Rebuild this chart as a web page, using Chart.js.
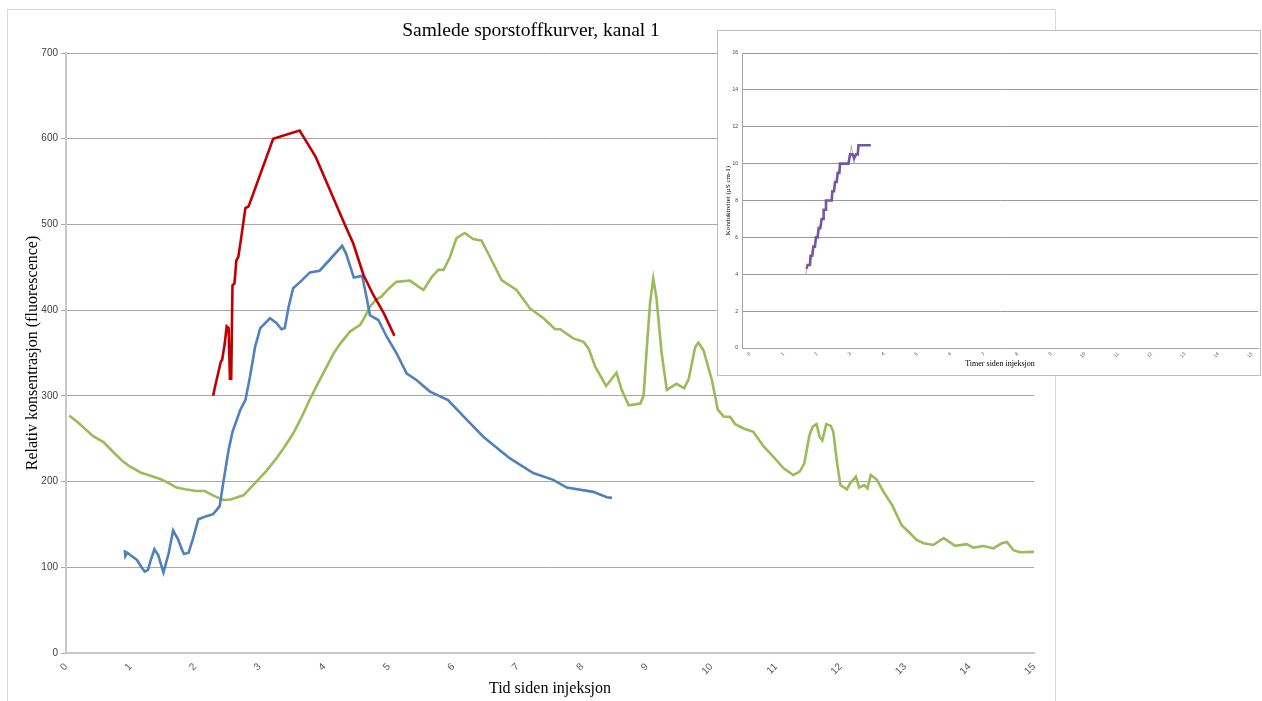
<!DOCTYPE html>
<html>
<head>
<meta charset="utf-8">
<script src="https://cdn.jsdelivr.net/npm/chart.js@4.4.1/dist/chart.umd.min.js"></script>
<style>
html,body{margin:0;padding:0;background:#fff;width:1262px;height:701px;overflow:hidden;}
#frame{position:absolute;left:7px;top:9px;width:1047px;height:700px;border:1px solid #d9d9d9;border-bottom:none;}
#main{position:absolute;left:0;top:0;}
#insetBox{position:absolute;left:717px;top:30px;width:542px;height:344px;border:1px solid #bfbfbf;background:#fff;}
#inset{position:absolute;left:0;top:0;}
</style>
</head>
<body>
<div id="frame"></div>
<canvas id="main" width="1262" height="701"></canvas>
<div id="insetBox"><canvas id="inset" width="542" height="344"></canvas></div>
<script>
// ---------- main chart data ----------
const chartTitle = 'Samlede sporstoffkurver, kanal 1';
const xTitle = 'Tid siden injeksjon';
const yTitle = 'Relativ konsentrasjon (fluorescence)';
const xTicks = [0,1,2,3,4,5,6,7,8,9,10,11,12,13,14,15];
const yTicks = [0,100,200,300,400,500,600,700];

const redX = [2.28,2.31,2.40,2.42,2.46,2.49,2.52,2.54,2.56,2.58,2.61,2.64,2.67,2.71,2.78,2.83,3.21,3.62,3.86,3.88,4.32,4.45,4.61,4.76,4.92,5.09];
const redY = [300,311,340,342,361,381,379,320,320,429,431,458,462,482,519,521,600,609.5,580,577,500,478,441,418,397,370];

const blueX = [0.91,0.92,0.95,1.00,1.10,1.17,1.22,1.27,1.32,1.37,1.43,1.51,1.59,1.66,1.74,1.80,1.83,1.90,1.97,2.05,2.15,2.28,2.38,2.44,2.52,2.58,2.70,2.78,2.85,2.93,3.01,3.16,3.26,3.34,3.39,3.45,3.52,3.63,3.78,3.93,4.04,4.28,4.34,4.40,4.46,4.59,4.66,4.71,4.84,4.97,5.12,5.28,5.43,5.64,5.92,6.16,6.47,6.88,7.24,7.55,7.76,8.17,8.38,8.46];
const blueY = [120,113,117,114,108.5,100,95,97,110,121,114,94,116,143,132,120,115.5,117,134,156,159,162,171,200,237,258,283.5,295,322,357,379,390.5,385,377.7,379,404,425.5,433,444,446,455,475,466,452,438,440,414,394,388.5,369,350,326,318.5,305,295,276,252,227,210,202,193,188,181.7,181];

const greenX = [0.05,0.20,0.42,0.58,0.75,0.89,1.00,1.17,1.30,1.46,1.60,1.71,1.85,2.02,2.15,2.30,2.44,2.55,2.75,2.95,3.10,3.26,3.40,3.52,3.65,3.78,3.90,4.04,4.15,4.25,4.40,4.56,4.63,4.71,4.80,4.89,5.00,5.12,5.33,5.45,5.54,5.67,5.77,5.85,5.95,6.05,6.18,6.31,6.44,6.57,6.75,6.98,7.19,7.40,7.58,7.66,7.86,8.02,8.10,8.20,8.37,8.53,8.61,8.72,8.90,8.95,9.00,9.05,9.10,9.15,9.23,9.31,9.46,9.58,9.65,9.75,9.80,9.88,10.01,10.10,10.19,10.29,10.37,10.50,10.65,10.81,10.96,11.12,11.27,11.37,11.44,11.52,11.57,11.63,11.68,11.72,11.78,11.85,11.89,11.95,12.00,12.10,12.15,12.24,12.29,12.37,12.42,12.47,12.56,12.67,12.80,12.95,13.08,13.18,13.29,13.44,13.60,13.78,13.96,14.06,14.22,14.37,14.50,14.58,14.68,14.78,15.00];
const greenY = [277,268,253,246,233,223,217,210,207,203,198,193,191,189,189,183,178.5,179,184,200,212,227,242,256,275,296,314,334,350,361,375,383,392,404,412,416,425,433,434.5,428,423.5,439,447,447,462,484,490,483,481,462,435,423.5,402,390.5,377.7,377.7,367,363,355,334,311.5,327,307,289,291,300,356,408,437,414,350,307,314,309,320,357,362,353,318,284,276,275.5,267,262,258,241,229,215.5,207.7,211.6,221,254,264,267,251.7,248,267,265,258,221,196,191,198,205.7,193,196,192,207.7,202.7,188,172.7,149,139.7,132,128,126,134,125,127,123,124.8,122,128,129.5,120,117.5,118];

// ---------- inset chart data ----------
const insetXTitle = 'Timer siden injeksjon';
const insetYTitle = 'Konduktivitet (µS cm-1)';
const insetXTicks = [0,1,2,3,4,5,6,7,8,9,10,11,12,13,14,15];
const insetYTicks = [0,2,4,6,8,10,12,14,16];

const purpleX = [1.69,1.72,1.79,1.81,1.86,1.89,1.94,1.97,2.02,2.05,2.10,2.14,2.19,2.20,2.25,2.27,2.44,2.46,2.51,2.54,2.59,2.62,2.67,2.69,2.94,2.99,3.07,3.11,3.17,3.22,3.24,3.61];
const purpleY = [4.3,4.5,4.5,5.0,5.0,5.5,5.5,6.0,6.0,6.5,6.5,7.0,7.0,7.5,7.5,8.0,8.0,8.5,8.5,9.0,9.0,9.5,9.5,10.0,10.0,10.5,10.5,10.3,10.5,10.5,11.0,11.0];

const greyX = [1.67,1.69,1.72,1.79,1.81,1.86,1.89,1.94,1.97,2.02,2.05,2.10,2.14,2.19,2.20,2.25,2.27,2.44,2.46,2.51,2.54,2.59,2.62,2.67,2.69,2.94,2.99,3.03,3.07,3.11,3.15,3.22,3.24,3.61];
const greyY = [4.0,4.3,4.5,4.5,5.0,5.0,5.5,5.5,6.0,6.0,6.5,6.5,7.0,7.0,7.5,7.5,8.0,8.0,8.5,8.5,9.0,9.0,9.5,9.5,10.0,10.0,10.5,11.0,10.5,10.0,10.5,10.5,11.0,11.0];

const pts = (xs, ys) => xs.map((x, i) => ({x: x, y: ys[i]}));

const serif = "'Liberation Serif', 'DejaVu Serif', serif";
const sans = "'Liberation Sans', 'DejaVu Sans', sans-serif";

// custom title drawn centered over the chart frame
const frameTitle = {
  id: 'frameTitle',
  afterDraw(chart, args, opts) {
    const ctx = chart.ctx;
    ctx.save();
    ctx.font = opts.size + 'px ' + serif;
    ctx.fillStyle = '#000';
    ctx.textAlign = 'center';
    ctx.textBaseline = 'middle';
    ctx.fillText(opts.text, opts.cx, opts.cy);
    ctx.restore();
  }
};

new Chart(document.getElementById('main'), {
  type: 'scatter',
  plugins: [frameTitle],
  data: {
    datasets: [
      {data: pts(redX, redY), borderColor: '#C00000', borderWidth: 2.6},
      {data: pts(blueX, blueY), borderColor: '#4F81BD', borderWidth: 2.6},
      {data: pts(greenX, greenY), borderColor: '#9BBB59', borderWidth: 2.6}
    ].map(d => Object.assign(d, {showLine: true, pointRadius: 0, tension: 0, fill: false}))
  },
  options: {
    responsive: false,
    animation: false,
    layout: {padding: {left: 0, top: 53, right: 228, bottom: 0}},
    plugins: {
      legend: {display: false},
      tooltip: {enabled: false},
      title: {display: false},
      frameTitle: {text: chartTitle, cx: 531, cy: 31, size: 19.5}
    },
    scales: {
      x: {
        type: 'linear', min: 0, max: 15,
        afterBuildTicks: s => { s.ticks = xTicks.map(v => ({value: v})); },
        afterFit: s => { s.height = 48; },
        grid: {display: false, drawTicks: false},
        border: {display: true, color: '#c8c8c8', width: 2},
        ticks: {autoSkip: false, minRotation: 45, maxRotation: 45, padding: 8, color: '#595959', font: {family: sans, size: 10}},
        title: {display: true, text: xTitle, color: '#000', font: {family: serif, size: 16}, padding: {top: 0, bottom: 3}}
      },
      y: {
        type: 'linear', min: 0, max: 700,
        afterBuildTicks: s => { s.ticks = yTicks.map(v => ({value: v})); },
        afterFit: s => { s.width = 66; },
        grid: {color: '#a6a6a6', lineWidth: 1, drawTicks: true, tickLength: 5},
        border: {display: true, color: '#c8c8c8', width: 2},
        ticks: {padding: 3, color: '#404040', font: {family: sans, size: 10}},
        title: {display: true, text: yTitle, color: '#000', font: {family: serif, size: 16}, padding: {top: 23, bottom: 0}}
      }
    }
  }
});

new Chart(document.getElementById('inset'), {
  type: 'scatter',
  data: {
    datasets: [
      {data: pts(purpleX, purpleY), borderColor: '#7356A2', borderWidth: 2.6},
      {data: pts(greyX, greyY), borderColor: '#b0b0b0', borderWidth: 1}
    ].map(d => Object.assign(d, {showLine: true, pointRadius: 0, tension: 0, fill: false}))
  },
  options: {
    responsive: false,
    animation: false,
    layout: {padding: {left: 0, top: 22, right: 2, bottom: 0}},
    plugins: {legend: {display: false}, tooltip: {enabled: false}, title: {display: false}},
    scales: {
      x: {
        type: 'linear', min: -0.24, max: 15.18,
        afterBuildTicks: s => { s.ticks = insetXTicks.map(v => ({value: v})); },
        afterFit: s => { s.height = 27; },
        grid: {display: false, drawTicks: false},
        border: {display: true, color: '#a6a6a6', width: 1},
        ticks: {autoSkip: false, minRotation: 45, maxRotation: 45, padding: 3, color: '#595959', font: {family: sans, size: 5}},
        title: {display: true, text: insetXTitle, color: '#000', font: {family: serif, size: 8}, padding: {top: 0, bottom: 6}}
      },
      y: {
        type: 'linear', min: 0, max: 16,
        afterBuildTicks: s => { s.ticks = insetYTicks.map(v => ({value: v})); },
        afterFit: s => { s.width = 24; },
        grid: {color: '#999999', lineWidth: 1, drawTicks: false},
        border: {display: true, color: '#a6a6a6', width: 1},
        ticks: {padding: 4, color: '#404040', font: {family: sans, size: 5}},
        title: {display: true, text: insetYTitle, color: '#000', font: {family: serif, size: 7}, padding: {top: 6, bottom: 0}}
      }
    }
  }
});
</script>
</body>
</html>
